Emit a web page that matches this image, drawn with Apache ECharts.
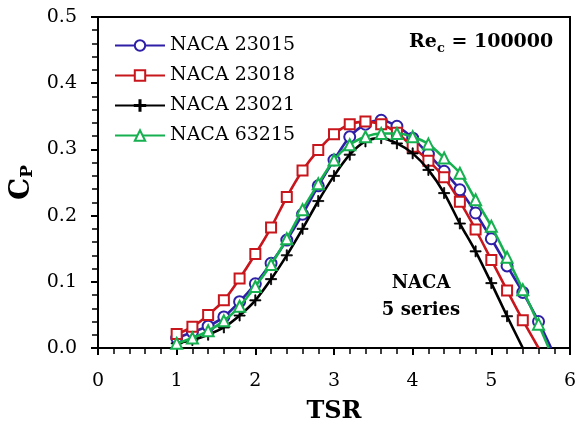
<!DOCTYPE html>
<html>
<head>
<meta charset="utf-8">
<script src="https://cdn.jsdelivr.net/npm/echarts@6/dist/echarts.min.js"></script>
<style>
html,body{margin:0;padding:0;background:#fff;}
#chart{width:583px;height:425px;}
</style>
</head>
<body>
<div id="chart"></div>
<script>
// ---- data ----
var tsr = [1.0,1.2,1.4,1.6,1.8,2.0,2.2,2.4,2.6,2.8,3.0,3.2,3.4,3.6,3.8,4.0,4.2,4.4,4.6,4.8,5.0,5.2,5.4,5.6];

var names = ['NACA 23015','NACA 23018','NACA 23021','NACA 63215'];

var cp23015 = [0.015,0.024,0.033,0.047,0.070,0.097,0.128,0.163,0.202,0.245,0.284,0.319,0.338,0.344,0.335,0.317,0.293,0.267,0.239,0.204,0.165,0.124,0.084,0.040];
var cp23018 = [0.021,0.032,0.050,0.072,0.105,0.142,0.182,0.228,0.268,0.299,0.323,0.338,0.342,0.338,0.325,0.304,0.283,0.258,0.221,0.179,0.133,0.087,0.042];
var cp23021 = [0.007,0.012,0.020,0.031,0.049,0.072,0.104,0.140,0.180,0.222,0.260,0.292,0.312,0.317,0.309,0.294,0.269,0.234,0.188,0.146,0.098,0.048];
var cp63215 = [0.007,0.015,0.026,0.041,0.063,0.093,0.126,0.165,0.209,0.248,0.284,0.307,0.319,0.324,0.324,0.319,0.308,0.287,0.264,0.224,0.184,0.137,0.088,0.036];

// TSR where each curve reaches Cp = 0
var zeroTsr = [5.76, 5.60, 5.40, 5.73];

var xTicks = [0,1,2,3,4,5,6];
var yTicks = [0.0,0.1,0.2,0.3,0.4,0.5];

// ---- build series ----
var colors = ['#2e1fa6','#c8161d','#000000','#16b050'];
var symbols = ['emptyCircle','emptyRect','path://M4.5,0H5.5V4.5H10V5.5H5.5V10H4.5V5.5H0V4.5H4.5Z','emptyTriangle'];
var sizes = [11,10,11,11];
var cps = [cp23015,cp23018,cp23021,cp63215];

function buildData(vals, zero){
  var d = [];
  for (var i=0;i<vals.length;i++) d.push([tsr[i], vals[i]]);
  d.push({value:[zero,0], symbol:'none'});
  return d;
}

var series = names.map(function(n,k){
  return {
    name:n, type:'line', smooth:0.3,
    data: buildData(cps[k], zeroTsr[k]),
    symbol: symbols[k], symbolSize: sizes[k],
    showSymbol:true,
    lineStyle:{color:colors[k], width:2.6},
    itemStyle:{color:colors[k], borderColor:colors[k], borderWidth:k===2?0.8:1.6},
    emphasis:{disabled:true},
    z: 2+k
  };
});

var serif = 'DejaVu Serif';
var chart = echarts.init(document.getElementById('chart'));
chart.setOption({
  animation:false,
  backgroundColor:'#fff',
  grid:{left:98, right:13, top:17, bottom:77, outerBoundsMode:'none', containLabel:false,
        show:true, borderColor:'#000', borderWidth:2, backgroundColor:'transparent'},
  legend:{
    orient:'vertical', left:109, top:31, itemWidth:50, itemHeight:13, itemGap:11,
    textStyle:{fontFamily:serif, fontSize:19, color:'#000'},
    data:names
  },
  xAxis:{
    type:'value', min:xTicks[0], max:xTicks[xTicks.length-1], interval:1,
    name:'TSR', nameLocation:'middle', nameGap:52,
    nameTextStyle:{fontFamily:serif, fontSize:24, fontWeight:'bold', color:'#000'},
    axisLine:{show:true, onZero:false, lineStyle:{color:'#000', width:2}},
    axisTick:{show:true, inside:false, length:7, lineStyle:{color:'#000', width:2}},
    minorTick:{show:true, splitNumber:5, length:6, lineStyle:{color:'#000', width:1.5}},
    axisLabel:{fontFamily:serif, fontSize:19, color:'#000', margin:24},
    splitLine:{show:false}
  },
  yAxis:{
    type:'value', min:yTicks[0], max:yTicks[yTicks.length-1], interval:0.1,
    name:'{c|C}{p|P}', nameLocation:'middle', nameGap:62, nameRotate:90,
    nameTextStyle:{rich:{
      c:{fontFamily:serif, fontSize:28, fontWeight:'bold', color:'#000'},
      p:{fontFamily:serif, fontSize:17, fontWeight:'bold', color:'#000', padding:[12,0,0,0]}
    }},
    axisLine:{show:true, onZero:false, lineStyle:{color:'#000', width:2}},
    axisTick:{show:true, inside:false, length:7, lineStyle:{color:'#000', width:2}},
    minorTick:{show:true, splitNumber:5, length:6, lineStyle:{color:'#000', width:1.5}},
    axisLabel:{fontFamily:serif, fontSize:19, color:'#000', margin:21, formatter:function(v){return v.toFixed(1);}},
    splitLine:{show:false}
  },
  graphic:[
    {type:'text', left:409, top:33, style:{
      text:'{a|Re}{s|c}{a| = 100000}',
      rich:{
        a:{fontFamily:serif, fontSize:19, fontWeight:'bold', fill:'#000'},
        s:{fontFamily:serif, fontSize:13, fontWeight:'bold', fill:'#000', padding:[12,0,0,0]}
      }
    }},
    {type:'text', x:421, y:297, style:{
      text:'NACA\n5 series', align:'center', verticalAlign:'middle', lineHeight:27,
      font:'bold 18px "DejaVu Serif"', fill:'#000'
    }}
  ],
  series:series
});
</script>
</body>
</html>
